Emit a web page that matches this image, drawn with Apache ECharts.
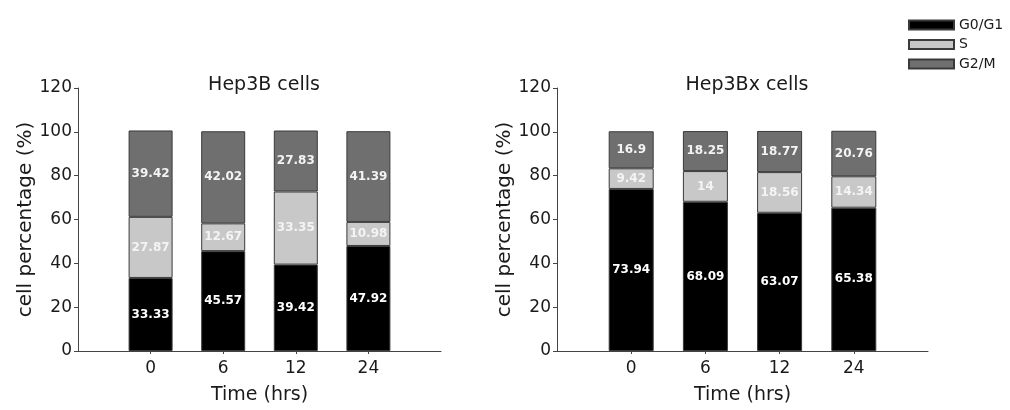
<!DOCTYPE html>
<html>
<head>
<meta charset="utf-8">
<script src="https://cdn.jsdelivr.net/npm/echarts@6/dist/echarts.min.js"></script>
<style>html,body{margin:0;padding:0;background:#fff;}#c{width:1010px;height:410px;}</style>
</head>
<body>
<div id="c"></div>
<script>
var categories = ['0', '6', '12', '24'];
var seriesNames = ['G0/G1', 'S', 'G2/M'];
var hep3bG0G1 = [33.33, 45.57, 39.42, 47.92];
var hep3bS = [27.87, 12.67, 33.35, 10.98];
var hep3bG2M = [39.42, 42.02, 27.83, 41.39];
var hep3bxG0G1 = [73.94, 68.09, 63.07, 65.38];
var hep3bxS = [9.42, 14, 18.56, 14.34];
var hep3bxG2M = [16.9, 18.25, 18.77, 20.76];
var titles = ['Hep3B cells', 'Hep3Bx cells'];
var yTicks = [0, 20, 40, 60, 80, 100, 120];

var FONT = 'DejaVu Sans';
var TXT = '#1a1a1a';
var colors = ['#000000', '#c8c8c8', '#6f6f6f'];
var labelColors = ['#ffffff', '#f4f4f4', '#f4f4f4'];

function pad(arr) { return ['-'].concat(arr).concat(['-']); }
var xCats = [''].concat(categories).concat(['']);

var grids = [
  {left: 78, width: 363, top: 88, height: 264},
  {left: 557, width: 371, top: 88, height: 264}
];

function xAxis(i) {
  return {
    type: 'category', gridIndex: i, data: xCats, boundaryGap: false,
    axisLine: {lineStyle: {color: '#444', width: 1}},
    axisTick: {show: true, length: 3, lineStyle: {color: '#444'},
      interval: function (idx, val) { return val !== ''; }},
    axisLabel: {interval: 0, margin: 9, color: TXT, fontSize: 17, fontFamily: FONT},
    name: 'Time (hrs)', nameLocation: 'middle', nameGap: 35,
    nameTextStyle: {color: TXT, fontSize: 19, fontFamily: FONT}
  };
}
function yAxis(i) {
  return {
    type: 'value', gridIndex: i, min: yTicks[0], max: yTicks[yTicks.length - 1], interval: 20,
    axisLine: {show: true, lineStyle: {color: '#444', width: 1}},
    axisTick: {show: true, length: 4, lineStyle: {color: '#444'}},
    splitLine: {show: false},
    axisLabel: {margin: 6, color: TXT, fontSize: 17, fontFamily: FONT},
    name: 'cell percentage (%)', nameLocation: 'middle', nameGap: 42,
    nameTextStyle: {color: TXT, fontSize: 20, fontFamily: FONT}
  };
}
function bar(name, data, idx, gi, barW) {
  return {
    type: 'bar', name: name, stack: 's' + gi, xAxisIndex: gi, yAxisIndex: gi,
    data: pad(data), barWidth: barW,
    itemStyle: {color: colors[idx], borderColor: '#3a3a3a', borderWidth: 1},
    label: {show: true, position: 'inside', color: labelColors[idx], fontWeight: 'bold',
      fontSize: 12, fontFamily: FONT},
    emphasis: {disabled: true},
    animation: false
  };
}

var chart = echarts.init(document.getElementById('c'), null, {renderer: 'canvas'});
chart.setOption({
  animation: false,
  backgroundColor: '#ffffff',
  title: [
    {text: titles[0], left: 259, top: 71, textAlign: 'center',
      textStyle: {color: TXT, fontSize: 19, fontWeight: 'normal', fontFamily: FONT}},
    {text: titles[1], left: 742, top: 71, textAlign: 'center',
      textStyle: {color: TXT, fontSize: 19, fontWeight: 'normal', fontFamily: FONT}}
  ],
  legend: {
    orient: 'vertical', left: 903, top: 13, itemWidth: 45, itemHeight: 9, itemGap: 5.5,
    icon: 'rect', data: seriesNames,
    textStyle: {color: TXT, fontSize: 14, fontFamily: FONT}
  },
  grid: grids,
  xAxis: [xAxis(0), xAxis(1)],
  yAxis: [yAxis(0), yAxis(1)],
  series: [
    bar(seriesNames[0], hep3bG0G1, 0, 0, 44),
    bar(seriesNames[1], hep3bS, 1, 0, 44),
    bar(seriesNames[2], hep3bG2M, 2, 0, 44),
    bar(seriesNames[0], hep3bxG0G1, 0, 1, 45),
    bar(seriesNames[1], hep3bxS, 1, 1, 45),
    bar(seriesNames[2], hep3bxG2M, 2, 1, 45)
  ]
});
</script>
</body>
</html>
